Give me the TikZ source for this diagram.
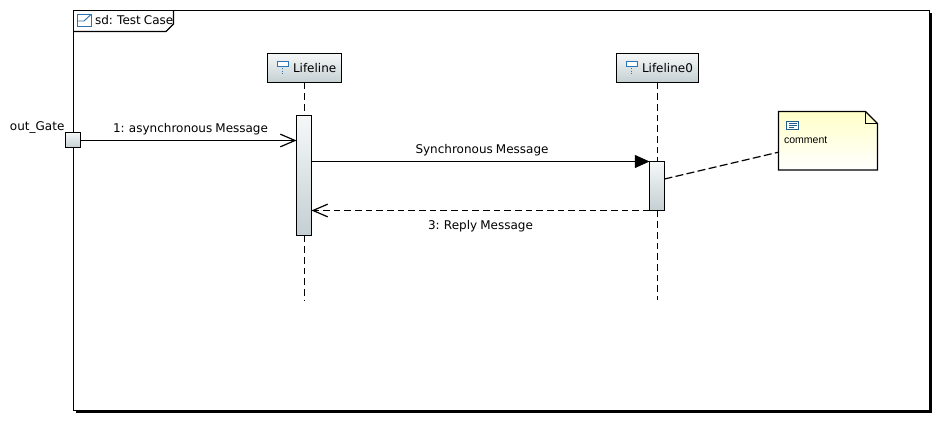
\documentclass[tikz,border=0pt]{standalone}
\usepackage{fontspec}
\setmainfont[WordSpace=0.8]{DejaVu Sans}
\newfontfamily\notefont{Liberation Sans}
\usetikzlibrary{arrows.meta}
\definecolor{iconblue}{HTML}{2A76B4}
\definecolor{gradtop}{HTML}{F6F8F8}
\definecolor{gradbot}{HTML}{C4CFD2}
\definecolor{notetop}{HTML}{FFFFC8}
\tikzset{
  x=0.75pt,y=-0.75pt,
  line/.style={line width=0.9pt,draw=black},
  greybox/.style={rectangle,line width=0.9pt,draw=black,top color=gradtop,bottom color=gradbot,inner sep=0pt,outer sep=0pt},
  lab/.style={anchor=base west,inner sep=0pt,outer sep=0pt,font=\fontsize{9pt}{11pt}\selectfont,text=black},
  lifedash/.style={line width=0.9pt,dash pattern=on 5pt off 3pt},
  icon/.style={line width=0.7pt,draw=iconblue},
  openhead/.style={-{Straight Barb[length=11pt,width=9.5pt,line width=0.9pt]}},
  fillhead/.style={-{Triangle[length=11pt,width=9.75pt]}},
  hidden/.style={rectangle,inner sep=0pt,outer sep=0pt}
}
\begin{document}
\begin{tikzpicture}
\useasboundingbox (0,0) rectangle (940,421);
% frame
\fill[black] (76,13) rectangle (931.7,412.5);
\node[rectangle,draw=black,line width=0.9pt,fill=white,inner sep=0pt,outer sep=0pt,minimum width=642pt,minimum height=300pt] (frame) at (501.5,210.5) {};
\draw[line] (73.5,31.5) -- (166,31.5) -- (173.5,24) -- (173.5,10.5);
\draw[icon,fill=white] (77.5,14.5) rectangle (91,26);
\draw[icon] (77.5,21) -- (84,21) -- (91,14.5);
\node[lab] (title) at (95,24.5) {sd: Test Case};
% lifelines
\node[greybox,minimum width=55.5pt,minimum height=21.75pt] (l1) at (304.5,68) {};
\node[greybox,minimum width=61.5pt,minimum height=21.75pt] (l2) at (657.5,68) {};
\node[greybox,minimum width=11.25pt,minimum height=90pt] (a1) at (304,175.5) {};
\node[greybox,minimum width=11.25pt,minimum height=36.75pt] (a2) at (657,186) {};
\coordinate (e1) at (304.5,300);
\coordinate (e2) at (657.5,300);
\draw[lifedash] (l1.south) -- (l1.south |- a1.north);
\draw[lifedash] (a1.south -| l1.south) -- (e1);
\draw[lifedash] (l2.south) -- (l2.south |- a2.north);
\draw[lifedash] (a2.south -| l2.south) -- (e2);
\node[lab] (t1) at (293,72) {Lifeline};
\node[lab] (t2) at (642,72) {Lifeline0};
\foreach \x in {277.5,626.5}{
  \draw[icon,fill=white] (\x,61) rectangle (\x+10.5,66);
  \draw[icon,densely dotted] (\x+5.25,66) -- (\x+5.25,74);
}
% gate
\node[greybox,minimum width=11.25pt,minimum height=11.25pt] (gate) at (73,140) {};
\node[lab] (gl) at (10,130) {out\_Gate};
% messages
\draw[line,openhead] ([yshift=-0.375pt]gate.east) -- ([yshift=-0.375pt]gate.east -| a1.west);
\node[lab] (m1) at (113,132) {1: asynchronous Message};
\draw[line,fillhead] (a2.north west -| a1.east) -- (a2.north west);
\node[lab] (m2) at (415.5,153) {Synchronous Message};
\draw[line,dash pattern=on 5pt off 3pt,openhead] (a2.south west) -- (a2.south west -| a1.east);
\node[lab] (m3) at (428,229.5) {3: Reply Message};
% note
\node[hidden,minimum width=74.25pt,minimum height=44pt] (note) at (828,140.75) {};
\shade[top color=notetop,bottom color=white] (note.north west) -- (865.5,111.5) -- (877.5,123.5) -- (note.south east) -- (note.south west) -- cycle;
\draw[line] (note.north west) -- (865.5,111.5) -- (877.5,123.5) -- (note.south east) -- (note.south west) -- cycle;
\draw[line] (865.5,111.5) -- (865.5,123.5) -- (877.5,123.5);
\draw[line width=0.7pt,draw=iconblue!80!black,fill=white] (786.5,121) rectangle (798.5,129.5);
\draw[line width=0.7pt,draw=iconblue!80!black] (788.5,123.5) -- (796.5,123.5) (788.5,125.5) -- (796.5,125.5) (788.5,127.5) -- (794,127.5);
\node[lab,font=\notefont\fontsize{7.9pt}{10pt}\selectfont] (nt) at (784,143) {comment};
\draw[line,dash pattern=on 6pt off 2.5pt] (a2.43) -- (note.193);
\end{tikzpicture}
\end{document}
